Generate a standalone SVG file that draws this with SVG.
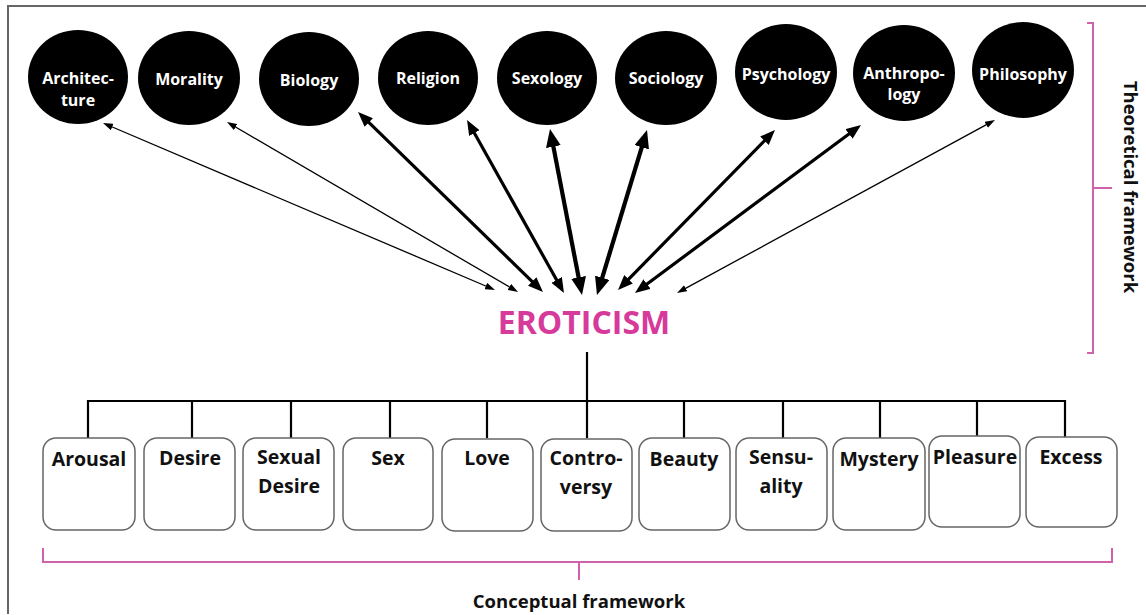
<svg xmlns="http://www.w3.org/2000/svg" width="1146" height="615" viewBox="0 0 1146 615">
  <style>
    .disc { fill: #000; }
    .disc-label { font-family: "Open Sans", "Liberation Sans", sans-serif; font-weight: 700; font-size: 16px; fill: #fff; text-anchor: middle; }
    .box { fill: #fff; stroke: #666; stroke-width: 1.5; }
    .box-label { font-family: "Open Sans", "Liberation Sans", sans-serif; font-weight: 700; font-size: 19.5px; fill: #111; text-anchor: middle; }
    .title { font-family: "Open Sans", "Liberation Sans", sans-serif; font-weight: 700; font-size: 32px; fill: #d63a9b; text-anchor: middle; }
    .side { font-family: "Open Sans", "Liberation Sans", sans-serif; font-weight: 700; font-size: 18.5px; fill: #111; text-anchor: middle; }
    .bracket { fill: none; stroke: #cf62aa; stroke-width: 2; }
    .tree { fill: none; stroke: #000; stroke-width: 2.2; }
    .thin { stroke: #000; stroke-width: 1.3; marker-start: url(#headThin); marker-end: url(#headThin); }
    .med { stroke: #000; stroke-width: 3.2; marker-start: url(#headMed); marker-end: url(#headMed); }
    .thick { stroke: #000; stroke-width: 4.2; marker-start: url(#headThick); marker-end: url(#headThick); }
  </style>
  <defs>
    <marker id="headThin" markerUnits="userSpaceOnUse" viewBox="0 0 10 7" markerWidth="10" markerHeight="7" refX="5" refY="3.5" orient="auto-start-reverse">
      <path d="M0,0 L10,3.5 L0,7 z" fill="#000"/>
    </marker>
    <marker id="headMed" markerUnits="userSpaceOnUse" viewBox="0 0 15 12" markerWidth="15" markerHeight="12" refX="7.5" refY="6" orient="auto-start-reverse">
      <path d="M0,0 L15,6 L0,12 z" fill="#000"/>
    </marker>
    <marker id="headThick" markerUnits="userSpaceOnUse" viewBox="0 0 18 15" markerWidth="18" markerHeight="15" refX="9" refY="7.5" orient="auto-start-reverse">
      <path d="M0,0 L18,7.5 L0,15 z" fill="#000"/>
    </marker>
  </defs>

  <rect width="1146" height="615" fill="#fff"/>
  <!-- outer frame -->
  <path d="M8,614 V6 H1146" fill="none" stroke="#666" stroke-width="2"/>

  <!-- theoretical disciplines -->
  <g id="architecture"><ellipse class="disc" cx="78" cy="77" rx="50" ry="47"/><text class="disc-label" x="78" y="84">Architec-</text><text class="disc-label" x="78" y="106">ture</text></g>
  <g id="morality"><ellipse class="disc" cx="189" cy="78" rx="51" ry="47"/><text class="disc-label" x="189" y="85">Morality</text></g>
  <g id="biology"><ellipse class="disc" cx="309" cy="79" rx="50" ry="47"/><text class="disc-label" x="309" y="86">Biology</text></g>
  <g id="religion"><ellipse class="disc" cx="428" cy="78" rx="50" ry="47"/><text class="disc-label" x="428" y="84">Religion</text></g>
  <g id="sexology"><ellipse class="disc" cx="547" cy="78" rx="50" ry="47"/><text class="disc-label" x="547" y="84">Sexology</text></g>
  <g id="sociology"><ellipse class="disc" cx="666" cy="78" rx="51" ry="47"/><text class="disc-label" x="666" y="84">Sociology</text></g>
  <g id="psychology"><ellipse class="disc" cx="786" cy="72" rx="51" ry="48"/><text class="disc-label" x="786" y="80">Psychology</text></g>
  <g id="anthropology"><ellipse class="disc" cx="904" cy="73" rx="51" ry="48"/><text class="disc-label" x="904" y="79">Anthropo-</text><text class="disc-label" x="904" y="100">logy</text></g>
  <g id="philosophy"><ellipse class="disc" cx="1023" cy="70" rx="51" ry="48"/><text class="disc-label" x="1023" y="80">Philosophy</text></g>

  <!-- central concept -->
  <g id="eroticism"><text class="title" x="584" y="334">EROTICISM</text></g>

  <!-- connectors -->
  <g id="connectors">
    <line class="thin" x1="107.6" y1="125.0" x2="490.4" y2="288.0"/>
    <line class="thin" x1="231.3" y1="124.5" x2="513.7" y2="289.5"/>
    <line class="med" x1="363.4" y1="117.2" x2="537.6" y2="286.8"/>
    <line class="med" x1="470.7" y1="126.5" x2="560.3" y2="286.5"/>
    <line class="thick" x1="551.7" y1="137.8" x2="580.3" y2="286.2"/>
    <line class="thick" x1="644.4" y1="138.6" x2="599.6" y2="286.4"/>
    <line class="med" x1="769.7" y1="135.4" x2="623.3" y2="284.6"/>
    <line class="med" x1="855.0" y1="129.5" x2="641.0" y2="288.5"/>
    <line class="thin" x1="990.6" y1="122.4" x2="681.4" y2="290.6"/>
    <!-- tree below the central concept -->
    <path class="tree" d="M587,352 V401 M88,401 H1065 M88,400 V438 M192,401 V438 M291,401 V438 M390,401 V438 M487,401 V438 M587,401 V438 M684,401 V438 M783,401 V438 M880,401 V438 M977,401 V437 M1065,400 V437"/>
  </g>

  <!-- conceptual components -->
  <g id="arousal"><rect class="box" x="43" y="438" width="92" height="92" rx="13"/><text class="box-label" x="89" y="466">Arousal</text></g>
  <g id="desire"><rect class="box" x="144" y="438" width="91" height="92" rx="13"/><text class="box-label" x="190" y="465">Desire</text></g>
  <g id="sexual-desire"><rect class="box" x="243" y="438" width="91" height="92" rx="13"/><text class="box-label" x="289" y="464">Sexual</text><text class="box-label" x="289" y="493">Desire</text></g>
  <g id="sex"><rect class="box" x="343" y="438" width="90" height="92" rx="13"/><text class="box-label" x="388" y="465">Sex</text></g>
  <g id="love"><rect class="box" x="442" y="439" width="91" height="92" rx="13"/><text class="box-label" x="487" y="465">Love</text></g>
  <g id="controversy"><rect class="box" x="541" y="439" width="91" height="92" rx="13"/><text class="box-label" x="586" y="465">Contro-</text><text class="box-label" x="586" y="494">versy</text></g>
  <g id="beauty"><rect class="box" x="639" y="438" width="91" height="92" rx="13"/><text class="box-label" x="684" y="466">Beauty</text></g>
  <g id="sensuality"><rect class="box" x="736" y="438" width="91" height="92" rx="13"/><text class="box-label" x="781" y="464">Sensu-</text><text class="box-label" x="781" y="493">ality</text></g>
  <g id="mystery"><rect class="box" x="833" y="438" width="92" height="92" rx="13"/><text class="box-label" x="879" y="466">Mystery</text></g>
  <g id="pleasure"><rect class="box" x="929" y="436" width="91" height="91" rx="13"/><text class="box-label" x="975" y="464">Pleasure</text></g>
  <g id="excess"><rect class="box" x="1026" y="437" width="91" height="90" rx="13"/><text class="box-label" x="1071" y="464">Excess</text></g>

  <!-- framework brackets -->
  <g id="theoretical-framework">
    <path class="bracket" d="M1087,23 H1093 V353 H1087 M1093,188 H1112"/>
    <text class="side" transform="translate(1124,187) rotate(90)">Theoretical framework</text>
  </g>
  <g id="conceptual-framework">
    <path class="bracket" d="M43,548 V562 H1112 V548 M579,562 V580"/>
    <text class="side" x="579" y="608">Conceptual framework</text>
  </g>
</svg>
